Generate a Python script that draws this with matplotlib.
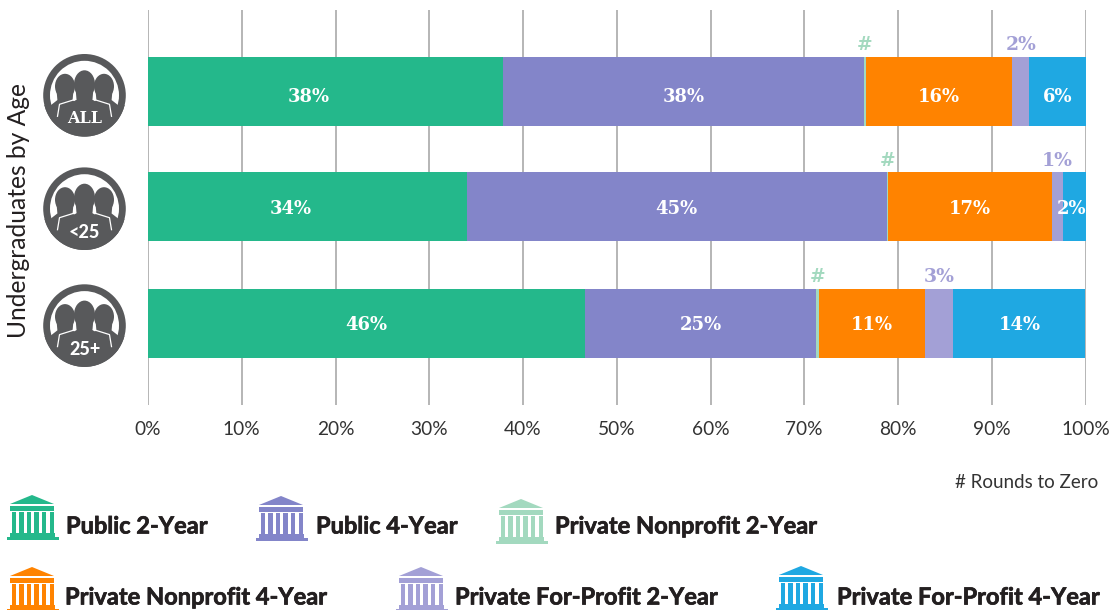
import matplotlib
matplotlib.use('Agg')
import numpy as np
import matplotlib.pyplot as plt
import matplotlib.patheffects as pe
from matplotlib.patches import Circle, Ellipse, Polygon, Rectangle

sectors = ['Public 2-Year', 'Public 4-Year', 'Private Nonprofit 2-Year',
           'Private Nonprofit 4-Year', 'Private For-Profit 2-Year', 'Private For-Profit 4-Year']
colors = ['#24B88B', '#8385C9', '#A3D9BF', '#FF8300', '#A3A0D6', '#1FA8E2']

# segment widths, one list per sector (ALL, <25, 25+)
public_2yr = [37.9, 34.0, 46.6]
public_4yr = [38.5, 44.8, 24.7]
nonprofit_2yr = [0.15, 0.1, 0.25]
nonprofit_4yr = [15.65, 17.5, 11.35]
forprofit_2yr = [1.8, 1.2, 3.0]
forprofit_4yr = [6.0, 2.4, 14.1]
series = [public_2yr, public_4yr, nonprofit_2yr, nonprofit_4yr, forprofit_2yr, forprofit_4yr]

labels_public_2yr = ['38%', '34%', '46%']
labels_public_4yr = ['38%', '45%', '25%']
labels_nonprofit_2yr = ['#', '#', '#']
labels_nonprofit_4yr = ['16%', '17%', '11%']
labels_forprofit_2yr = ['2%', '1%', '3%']
labels_forprofit_4yr = ['6%', '2%', '14%']
series_labels = [labels_public_2yr, labels_public_4yr, labels_nonprofit_2yr,
                 labels_nonprofit_4yr, labels_forprofit_2yr, labels_forprofit_4yr]

ages = ['ALL', '<25', '25+']
tick_values = list(range(0, 101, 10))

W, H = 1114, 610
SLAB = 'DejaVu Serif'
SANS = 'Lato'
DARK = '#231F20'
ICON_GRAY = '#58595B'

fig = plt.figure(figsize=(W / 100, H / 100), dpi=100)
ax = fig.add_axes([148 / W, 1 - 405 / H, 937.5 / W, 395 / H])
# axis y runs in pixels so the rows land where they do in the reference
ax.set_xlim(0, 100)
ax.set_ylim(405, 10)
row_y = [91.5, 206.5, 323.5]

ax.set_axisbelow(True)
ax.grid(axis='x', color='#A9A9A9', lw=1.2)
ax.grid(axis='y', visible=False)
for s in ax.spines.values():
    s.set_visible(False)
ax.set_yticks([])
ax.set_xticks(tick_values)
ax.set_xticklabels([f'{v}%' for v in tick_values], fontsize=13.8, family=SANS, color='#333333')
ax.tick_params(axis='x', length=0, pad=11.5)
ax.patch.set_alpha(0)

left = np.zeros(3)
for vals, col, labs, name in zip(series, colors, series_labels, sectors):
    vals = np.array(vals)
    ax.barh(row_y, vals, left=left, height=69, color=col, linewidth=0, label=name)
    for i in range(3):
        cx = left[i] + vals[i] / 2
        if col in ('#A3D9BF', '#A3A0D6'):
            # small segments get their label above the bar
            ax.text(cx, row_y[i] - 46, labs[i], color=col, ha='center', va='center',
                    fontsize=13.5, family=SLAB, weight='bold')
        else:
            if col == '#24B88B' and i < 2:
                cx -= 1.8
            dy = 3 if i == 0 else 0
            if col == '#1FA8E2' and i == 1:
                cx -= 0.3
            ax.text(cx, row_y[i] + dy + 2, labs[i], color='white', ha='center', va='center',
                    fontsize=13, family=SLAB, weight='bold', zorder=5)
    left = left + vals

# overlay in pixel coordinates for the icons
ov = fig.add_axes([0, 0, 1, 1])
ov.set_xlim(0, W)
ov.set_ylim(H, 0)
ov.axis('off')
ov.patch.set_alpha(0)


def person(cx, cy, hw, hh, sx, z, clip):
    head = Ellipse((cx, cy), hw, hh, color=ICON_GRAY, lw=0, zorder=z)
    ov.add_patch(head)
    pts = [(cx - hw * 0.42, cy + hh * 0.2), (cx - hw * 0.38, cy + hh * 0.55), (cx - sx, cy + hh * 0.78),
           (cx - sx, cy + 36), (cx + sx, cy + 36), (cx + sx, cy + hh * 0.78),
           (cx + hw * 0.38, cy + hh * 0.55), (cx + hw * 0.42, cy + hh * 0.2)]
    body = Polygon(pts, closed=True, color=ICON_GRAY, lw=0, zorder=z)
    ov.add_patch(body)
    body.set_clip_path(clip)


def people_icon(cx, cy, label):
    disk = Circle((cx, cy), 41.3, color=ICON_GRAY, lw=0, zorder=2)
    ov.add_patch(disk)
    ov.add_patch(Circle((cx, cy), 34.5, color='white', lw=0, zorder=3))
    lower = Rectangle((cx - 41, cy + 10), 82, 32, color=ICON_GRAY, lw=0, zorder=3.1)
    ov.add_patch(lower)
    lower.set_clip_path(disk)
    person(cx - 19.5, cy - 9, 20, 25, 15, 4, disk)
    person(cx + 19.5, cy - 9, 20, 25, 15, 4, disk)
    person(cx, cy - 11, 21, 28, 19, 5, disk)
    for sgn in (-1, 1):
        xs = [cx + sgn * 27, cx + sgn * 25, cx + sgn * 9]
        ys = [cy + 21, cy + 9, cy + 4]
        ov.plot(xs, ys, color='white', lw=0.9, zorder=6)
    if label == 'ALL':
        ov.text(cx, cy + 23, label, color='white', ha='center', va='center', fontsize=11.5,
                family=SLAB, weight='bold', zorder=7)
    else:
        ov.text(cx, cy + 24, label, color='white', ha='center', va='center', fontsize=13,
                family=SANS, weight='black', zorder=7)


for cy, lab in zip([95.3, 208.7, 325.6], ages):
    people_icon(84.5, cy, lab)


def temple(x, y, col):
    # x, y = top-left of a 52 x 44 icon
    ov.add_patch(Polygon([(x + 3, y + 9), (x + 25, y), (x + 47, y + 9)], closed=True, color=col, lw=0))
    ov.add_patch(Rectangle((x + 3, y + 11), 44, 4.5, color=col, lw=0))
    for k in range(6):
        ov.add_patch(Rectangle((x + 4.5 + k * 7.6, y + 16.5), 4.4, 22, color=col, lw=0))
    ov.add_patch(Rectangle((x + 3, y + 38), 45, 4, color=col, lw=0))
    ov.add_patch(Rectangle((x, y + 42), 52, 2.5, color=col, lw=0))


legend_icon_x = [7, 256, 496, 7, 396, 776]
legend_icon_y = [495, 496, 499, 567, 567, 566]
legend_text_x = [66, 316, 555, 65, 455, 837]
legend_text_y = [526, 526, 526, 597, 597, 597]
heavier = [pe.withStroke(linewidth=0.5, foreground=DARK)]
for name, col, ix, iy, tx, ty in zip(sectors, colors, legend_icon_x, legend_icon_y, legend_text_x, legend_text_y):
    temple(ix, iy, col)
    ov.text(tx, ty, name, color=DARK, ha='left', va='center', fontsize=17, family=SANS, weight='bold',
            path_effects=heavier)

ov.text(1098, 483, '# Rounds to Zero', color='#333333', ha='right', va='center', fontsize=13.5, family=SANS)
ov.text(19, 210, 'Undergraduates by Age', color=DARK, rotation=90, ha='center', va='center',
        fontsize=17.7, family=SANS)

fig.savefig('out.png', dpi=100)
